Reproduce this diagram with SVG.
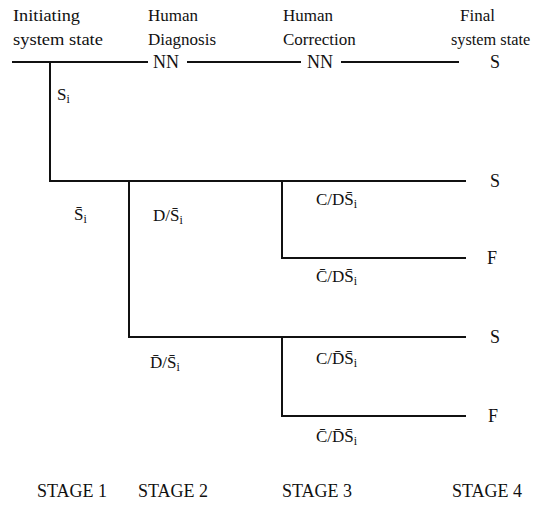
<svg xmlns="http://www.w3.org/2000/svg" width="533" height="510" viewBox="0 0 533 510">
  <style>
    text { font-family: "Liberation Serif", "Times New Roman", serif; fill: #111; }
    .hdr { font-size: 17px; }
    .hdr-r { font-size: 16.3px; }
    .stage { font-size: 18px; }
    .lbl { font-size: 17px; }
    .out { font-size: 18px; }
    .sub { font-size: 12px; }
    .edge { stroke: #111; stroke-width: 2; fill: none; stroke-linecap: square; }
  </style>
  <rect width="533" height="510" fill="#fff"/>

  <!-- column headings -->
  <g id="headings">
    <text class="hdr" x="13" y="21" textLength="67" lengthAdjust="spacingAndGlyphs">Initiating</text>
    <text class="hdr" x="13" y="45" textLength="90" lengthAdjust="spacingAndGlyphs">system state</text>
    <text class="hdr" x="148" y="21">Human</text>
    <text class="hdr" x="148" y="45">Diagnosis</text>
    <text class="hdr" x="283" y="21">Human</text>
    <text class="hdr" x="283" y="45">Correction</text>
    <text class="hdr" x="460" y="21">Final</text>
    <text class="hdr-r" x="451" y="45">system state</text>
  </g>

  <!-- branching lines of the event tree -->
  <g id="connectors">
    <path class="edge" d="M13 62 H147 M188 62 H300 M342 62 H458"/>
    <path class="edge" d="M50 62 V181 H465"/>
    <path class="edge" d="M129 181 V337 H465"/>
    <path class="edge" d="M282 181 V258 H465"/>
    <path class="edge" d="M282 337 V416 H465"/>
  </g>

  <!-- stage 1 -> success path -->
  <g id="nn-diagnosis"><text class="out" x="153" y="68">NN</text></g>
  <g id="nn-correction"><text class="out" x="307" y="68">NN</text></g>
  <g id="s-initial"><text class="lbl" x="57" y="100">S<tspan class="sub" dy="3">i</tspan></text></g>
  <g id="s-initial-bar"><text class="lbl" x="74" y="220">S&#x304;<tspan class="sub" dy="3">i</tspan></text></g>

  <!-- diagnosis branches -->
  <g id="diag-ok"><text class="lbl" x="153" y="221">D/S&#x304;<tspan class="sub" dy="3">i</tspan></text></g>
  <g id="diag-fail"><text class="lbl" x="150" y="368">D&#x304;/S&#x304;<tspan class="sub" dy="3">i</tspan></text></g>

  <!-- correction branches -->
  <g id="corr-ok-1"><text class="lbl" x="316" y="205">C/DS&#x304;<tspan class="sub" dy="3">i</tspan></text></g>
  <g id="corr-fail-1"><text class="lbl" x="316" y="282">C&#x304;/DS&#x304;<tspan class="sub" dy="3">i</tspan></text></g>
  <g id="corr-ok-2"><text class="lbl" x="316" y="364">C/D&#x304;S&#x304;<tspan class="sub" dy="3">i</tspan></text></g>
  <g id="corr-fail-2"><text class="lbl" x="316" y="442">C&#x304;/D&#x304;S&#x304;<tspan class="sub" dy="3">i</tspan></text></g>

  <!-- final states -->
  <g id="final-1"><text class="out" x="490" y="68">S</text></g>
  <g id="final-2"><text class="out" x="490" y="187">S</text></g>
  <g id="final-3"><text class="out" x="487" y="264">F</text></g>
  <g id="final-4"><text class="out" x="490" y="343">S</text></g>
  <g id="final-5"><text class="out" x="488" y="422">F</text></g>

  <!-- stage row -->
  <g id="stages">
    <text class="stage" x="37" y="497">STAGE 1</text>
    <text class="stage" x="138" y="497">STAGE 2</text>
    <text class="stage" x="282" y="497">STAGE 3</text>
    <text class="stage" x="452" y="497">STAGE 4</text>
  </g>
</svg>
